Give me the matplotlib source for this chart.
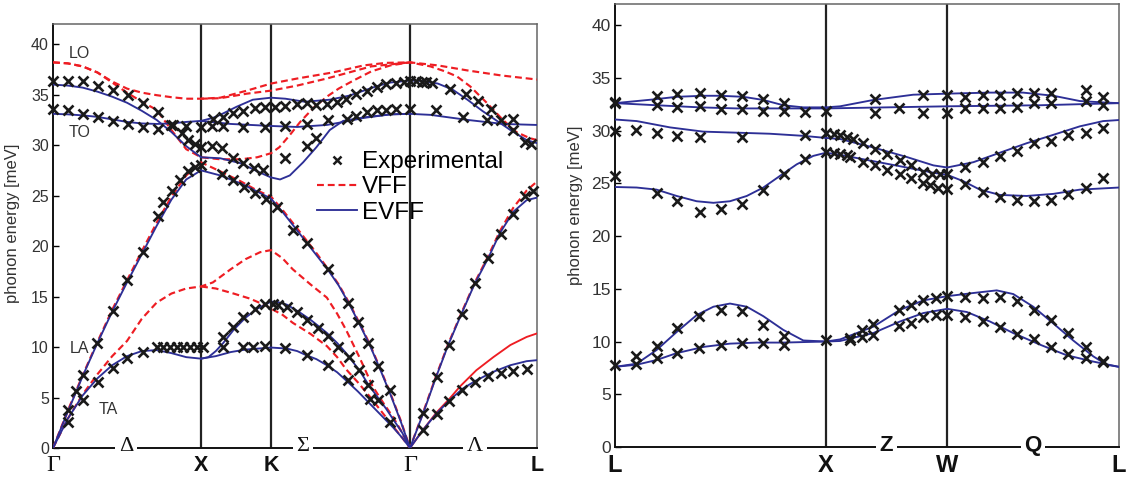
import matplotlib
matplotlib.use("Agg")
import matplotlib.pyplot as plt
from matplotlib.lines import Line2D

plt.rcParams['font.family'] = ['Liberation Sans', 'DejaVu Sans']

# ---------------- LEFT PANEL: path Γ-X-K-Γ-L (path coordinate q) ----------------
LEFT_NODES = [0.0, 1.0, 1.473, 2.412, 3.27]
LEFT_NODE_LABELS = ['Γ', 'X', 'K', 'Γ', 'L']
LEFT_DIR_LABELS = ['Δ', 'Σ', 'Λ']
LEFT_DIR_POS = [0.493, 1.689, 2.851]
Y_TICKS = [0, 5, 10, 15, 20, 25, 30, 35, 40]

# EVFF (blue, solid)
E1_Q = [0, 0.1, 0.2, 0.3, 0.4, 0.5, 0.6, 0.7, 0.8, 0.9, 1.0, 1.13, 1.27, 1.38, 1.473,
        1.534, 1.60, 1.69, 1.78, 1.87, 1.96, 2.1, 2.28, 2.412, 2.55, 2.8, 3.04, 3.27]
E1_E = [36.0, 35.9, 35.7, 35.3, 34.8, 34.2, 33.4, 32.5, 31.3, 29.9, 28.8, 28.7, 28.2, 27.4, 26.8,
        26.6, 27.0, 28.3, 29.8, 31.5, 32.4, 32.75, 33.05, 33.1, 33.0, 32.5, 32.1, 32.0]
E2_Q = [0, 0.1, 0.2, 0.3, 0.4, 0.5, 0.6, 0.7, 0.8, 0.9, 1.0, 1.08, 1.13, 1.24, 1.35, 1.473,
        1.57, 1.70, 1.87, 2.0, 2.10, 2.20, 2.28, 2.412, 2.5, 2.6, 2.7, 2.8, 2.9, 3.0, 3.1, 3.2, 3.27]
E2_E = [33.1, 33.05, 32.95, 32.8, 32.55, 32.3, 32.15, 32.1, 32.15, 32.3, 32.4, 32.7, 33.0, 33.8, 34.5, 34.7,
        34.6, 34.3, 34.5, 34.9, 35.4, 35.9, 36.2, 36.4, 36.35, 36.1, 35.5, 34.5, 33.4, 32.4, 31.4, 30.5, 30.2]
E3_Q = [1.0, 1.2, 1.473, 1.65, 1.85, 2.0, 2.10, 2.28, 2.412]
E3_E = [32.4, 32.1, 31.9, 31.8, 32.0, 32.4, 32.7, 33.05, 33.1]
LA_Q = [0, 0.1, 0.2, 0.3, 0.4, 0.5, 0.6, 0.7, 0.8, 0.9, 1.0, 1.13, 1.27, 1.38, 1.473,
        1.55, 1.62, 1.70, 1.78, 1.86, 1.93, 2.0, 2.07, 2.14, 2.21, 2.28, 2.35, 2.412,
        2.50, 2.59, 2.67, 2.76, 2.85, 2.94, 3.02, 3.11, 3.2, 3.27]
E4_E = [0, 3.6, 7.1, 10.4, 13.5, 16.4, 19.2, 22.0, 24.6, 26.6, 27.5, 27.0, 26.2, 25.4, 24.7,
        23.4, 22.1, 20.6, 19.1, 17.6, 16.1, 14.3, 12.3, 10.2, 7.8, 5.3, 2.6, 0,
        3.4, 7.1, 10.2, 13.3, 16.3, 18.8, 21.3, 23.4, 24.55, 24.8]
E5_Q = [0, 0.1, 0.2, 0.3, 0.4, 0.5, 0.6, 0.7, 0.8, 0.9, 1.0, 1.05, 1.1, 1.15, 1.22, 1.3, 1.38, 1.473,
        1.52, 1.58, 1.66, 1.74, 1.80, 1.85, 1.92, 1.98, 2.07, 2.13, 2.19, 2.25, 2.30, 2.36, 2.412,
        2.50, 2.59, 2.68, 2.77, 2.86, 2.975, 3.09, 3.20, 3.27]
E5_E = [0, 2.9, 5.2, 6.9, 8.2, 9.1, 9.6, 9.7, 9.4, 9.0, 8.85, 9.0, 9.6, 10.4, 11.7, 12.9, 13.8, 14.5,
        14.45, 14.2, 13.5, 12.7, 12.0, 11.4, 10.4, 9.4, 7.7, 6.3, 5.1, 3.9, 2.8, 1.5, 0,
        1.8, 3.4, 4.75, 5.9, 6.7, 7.55, 8.2, 8.6, 8.7]
E6_Q = [1.0, 1.1, 1.2, 1.3, 1.473, 1.58, 1.65, 1.71, 1.78, 1.85, 1.92, 1.98, 2.06, 2.14, 2.22, 2.30, 2.36, 2.412]
E6_E = [8.85, 9.1, 9.5, 9.75, 9.95, 9.85, 9.6, 9.2, 8.8, 8.2, 7.5, 6.7, 5.6, 4.4, 3.2, 2.0, 1.0, 0]

# VFF (red, dashed)
V1_Q = [0, 0.1, 0.2, 0.3, 0.4, 0.5, 0.6, 0.7, 0.8, 0.9, 1.0, 1.13, 1.31, 1.473,
        1.65, 1.89, 2.1, 2.25, 2.412, 2.6, 2.8, 3.03, 3.27]
V1_E = [38.2, 38.1, 37.8, 37.2, 36.3, 35.6, 35.2, 34.95, 34.75, 34.6, 34.6, 34.7, 35.4, 36.1,
        36.6, 37.2, 37.9, 38.15, 38.2, 37.9, 37.4, 36.9, 36.5]
V2_Q = [1.0, 1.13, 1.31, 1.473, 1.65, 1.85, 2.0, 2.15, 2.412]
V2_E = [34.6, 34.65, 35.1, 35.4, 35.9, 36.6, 37.2, 37.8, 38.2]
V3_Q = [0, 0.1, 0.2, 0.3, 0.4, 0.5, 0.6, 0.7, 0.8, 0.9, 1.0, 1.13, 1.27, 1.38, 1.473,
        1.53, 1.60, 1.67, 1.76, 1.85, 1.93, 2.03, 2.15, 2.28, 2.412,
        2.55, 2.65, 2.73, 2.82, 2.93, 3.04, 3.13, 3.22, 3.27]
V3_E = [38.2, 38.1, 37.8, 37.2, 36.2, 35.2, 34.3, 33.5, 31.5, 29.6, 28.8, 28.6, 28.6, 28.8, 29.2,
        29.8, 31.0, 32.3, 33.7, 34.8, 35.6, 36.4, 37.3, 37.9, 38.2,
        37.8, 37.3, 36.8, 35.8, 34.2, 32.5, 31.3, 30.7, 30.5]
V4_E = [0, 3.7, 7.2, 10.5, 13.7, 16.6, 19.5, 22.3, 24.9, 27.0, 28.3, 27.4, 26.4, 25.5, 24.9,
        23.6, 22.3, 20.8, 19.3, 17.7, 16.2, 14.4, 12.4, 10.3, 7.9, 5.4, 2.7, 0,
        3.5, 7.2, 10.3, 13.4, 16.4, 19.0, 21.5, 23.8, 25.5, 26.4]
V5_Q = [0, 0.1, 0.2, 0.3, 0.4, 0.5, 0.6, 0.7, 0.8, 0.9, 1.0, 1.08, 1.2, 1.3, 1.4, 1.473,
        1.55, 1.62, 1.74, 1.85, 1.92, 1.98, 2.07, 2.16, 2.23, 2.30, 2.36, 2.412]
V5_E = [0, 2.9, 5.3, 7.3, 9.1, 10.6, 12.8, 14.4, 15.3, 15.8, 16.0, 16.4, 17.7, 18.7, 19.4, 19.6,
        18.8, 17.7, 16.2, 14.9, 13.3, 11.7, 9.0, 6.1, 4.5, 3.0, 1.5, 0]
V6_Q = [1.0, 1.1, 1.22, 1.33, 1.44, 1.473, 1.55, 1.62, 1.74, 1.85, 1.92, 1.98, 2.06, 2.14, 2.22, 2.30, 2.36, 2.412]
V6_E = [16.0, 15.8, 15.3, 14.8, 14.1, 13.8, 13.2, 12.4, 11.3, 10.1, 9.0, 7.8, 6.5, 5.1, 3.6, 2.1, 1.0, 0]
V7_Q = [2.412, 2.50, 2.59, 2.68, 2.75, 2.86, 2.975, 3.09, 3.20, 3.27]      # drawn solid in the source
V7_E = [0, 1.8, 3.5, 4.9, 6.1, 7.7, 9.0, 10.2, 11.0, 11.35]

# Experimental points (q, meV)
L_EXP_GX = [(0.0, 36.4), (0.103, 36.4), (0.205, 36.4), (0.306, 35.9), (0.407, 35.5), (0.505, 34.95),
            (0.61, 34.2), (0.71, 33.3), (0.81, 32.0), (0.87, 31.2), (0.914, 30.5), (0.959, 30.1), (1.0, 29.8),
            (0.0, 33.6), (0.103, 33.5), (0.205, 33.1), (0.306, 32.8), (0.407, 32.4), (0.505, 32.1),
            (0.61, 31.8), (0.707, 31.6), (0.80, 32.0), (0.90, 31.9), (1.0, 31.8),
            (0.103, 3.76), (0.155, 5.6), (0.205, 7.2), (0.30, 10.4), (0.407, 13.6), (0.502, 16.6),
            (0.606, 19.4), (0.707, 23.0), (0.745, 24.4), (0.802, 25.5), (0.858, 26.5), (0.914, 27.4),
            (0.959, 27.8), (1.0, 28.0),
            (0.103, 2.6), (0.2, 4.75), (0.302, 6.5), (0.407, 7.9), (0.502, 8.9), (0.606, 9.55),
            (0.70, 10.0), (0.745, 10.0), (0.79, 10.0), (0.836, 10.0), (0.88, 10.0), (0.926, 10.0),
            (0.971, 10.0), (1.016, 10.0)]
L_EXP_XK = [(1.08, 32.6), (1.147, 32.8), (1.218, 33.2), (1.286, 33.4), (1.365, 33.7), (1.432, 33.8), (1.50, 33.8),
            (1.072, 31.9), (1.147, 31.9), (1.286, 31.8), (1.432, 31.8),
            (1.072, 29.9), (1.14, 29.7), (1.218, 28.7), (1.286, 28.2), (1.355, 27.7), (1.42, 27.5),
            (1.14, 27.1), (1.218, 26.5), (1.29, 25.9), (1.365, 25.3), (1.44, 24.7), (1.511, 23.9),
            (1.147, 11.0), (1.147, 10.0), (1.218, 12.0), (1.286, 13.0), (1.365, 13.8), (1.432, 14.25),
            (1.486, 14.25), (1.286, 10.0), (1.35, 10.0), (1.432, 10.1)]
L_EXP_KG = [(1.57, 33.9), (1.647, 34.1), (1.714, 34.2), (1.78, 34.0), (1.85, 34.1), (1.92, 34.3), (1.98, 34.6),
            (2.05, 35.1), (2.12, 35.4), (2.19, 35.8), (2.25, 36.1), (2.32, 36.2), (2.37, 36.3), (2.412, 36.4),
            (1.568, 31.9), (1.714, 32.1), (1.86, 32.5), (1.984, 32.6), (2.05, 32.9), (2.12, 33.3),
            (2.19, 33.5), (2.25, 33.5), (2.32, 33.6), (2.412, 33.6),
            (1.568, 28.7), (1.714, 29.9), (1.78, 30.7),
            (1.62, 21.6), (1.714, 20.3), (1.86, 17.7), (1.995, 14.4), (2.063, 12.5), (2.13, 10.4),
            (2.198, 8.1), (2.28, 5.7),
            (1.52, 14.2), (1.58, 13.95), (1.647, 13.5), (1.714, 12.7), (1.79, 11.9), (1.86, 11.1),
            (1.928, 10.0), (2.0, 9.0), (2.07, 7.7), (2.13, 6.2), (2.198, 4.8), (2.277, 2.6),
            (1.568, 9.9), (1.714, 9.2), (1.86, 8.2), (1.995, 6.7), (2.14, 4.9)]
L_EXP_GL = [(2.45, 36.4), (2.49, 36.3), (2.52, 36.3), (2.56, 36.2), (2.68, 35.6), (2.79, 35.1), (2.87, 34.4),
            (2.96, 33.6), (3.03, 32.5), (3.11, 32.6), (3.11, 31.5), (3.19, 30.3), (3.23, 30.1),
            (2.59, 33.5), (2.77, 32.8), (2.93, 32.5),
            (2.50, 3.5), (2.593, 7.0), (2.678, 10.2), (2.761, 13.3), (2.851, 16.3), (2.941, 18.8),
            (3.025, 21.2), (3.11, 23.2), (3.19, 25.0), (3.245, 25.5),
            (2.50, 1.8), (2.593, 3.4), (2.678, 4.7), (2.761, 5.7), (2.851, 6.5), (2.941, 7.1),
            (3.025, 7.45), (3.11, 7.6), (3.20, 7.8)]

# ---------------- RIGHT PANEL: path L-X-W-L ----------------
RIGHT_NODES = [0.0, 0.866, 1.364, 2.069]
RIGHT_NODE_LABELS = ['L', 'X', 'W', 'L']
RIGHT_DIR_LABELS = ['Z', 'Q']
RIGHT_DIR_POS = [1.115, 1.716]

R1_Q = [0, 0.157, 0.253, 0.362, 0.431, 0.527, 0.609, 0.691, 0.773, 0.866, 0.924, 1.06, 1.224, 1.364,
        1.539, 1.675, 1.80, 1.908, 2.018, 2.069]
R1_E = [32.6, 32.95, 33.2, 33.3, 33.3, 33.2, 32.9, 32.4, 32.2, 32.2, 32.3, 32.9, 33.4, 33.5,
        33.6, 33.6, 33.3, 32.8, 32.65, 32.6]
R2_Q = [0, 0.171, 0.349, 0.50, 0.866, 1.364, 1.745, 2.069]
R2_E = [32.6, 32.4, 32.2, 32.1, 32.1, 32.3, 32.4, 32.6]
R3_Q = [0, 0.089, 0.226, 0.362, 0.50, 0.636, 0.773, 0.866, 0.924, 1.06, 1.197, 1.307, 1.364,
        1.471, 1.58, 1.69, 1.80, 1.908, 2.004, 2.069]
R3_E = [31.05, 30.9, 30.3, 29.9, 29.8, 29.7, 29.5, 29.3, 29.2, 28.4, 27.5, 26.7, 26.5,
        27.0, 27.9, 28.8, 29.6, 30.4, 30.9, 31.0]
R4_Q = [0, 0.089, 0.171, 0.253, 0.335, 0.404, 0.472, 0.541, 0.609, 0.677, 0.746, 0.814, 0.866,
        0.924, 1.06, 1.197, 1.307, 1.364, 1.43, 1.498, 1.58, 1.69, 1.80, 1.908, 2.069]
R4_E = [24.65, 24.6, 24.4, 23.8, 23.3, 23.15, 23.3, 23.8, 24.6, 25.7, 26.8, 27.6, 27.9,
        27.7, 27.1, 26.5, 26.0, 25.8, 25.2, 24.4, 23.9, 23.8, 24.0, 24.4, 24.6]
R5_Q = [0, 0.089, 0.171, 0.253, 0.335, 0.404, 0.472, 0.541, 0.609, 0.691, 0.773, 0.866,
        0.924, 1.06, 1.17, 1.266, 1.364, 1.471, 1.567, 1.635, 1.717, 1.80, 1.881, 1.963, 2.018, 2.069]
R5_E = [7.6, 7.9, 9.2, 10.9, 12.5, 13.3, 13.6, 13.3, 12.4, 11.1, 10.1, 10.0,
        10.2, 11.4, 13.0, 13.9, 14.3, 14.6, 14.85, 14.5, 13.3, 11.7, 10.1, 8.6, 7.8, 7.6]
R6_Q = [0, 0.089, 0.171, 0.253, 0.366, 0.472, 0.582, 0.691, 0.866, 0.924, 1.06, 1.17, 1.266, 1.364,
        1.444, 1.539, 1.635, 1.745, 1.854, 1.963, 2.069]
R6_E = [7.6, 7.8, 8.25, 8.9, 9.5, 9.8, 9.9, 9.9, 10.0, 10.05, 10.8, 11.9, 12.7, 13.1,
        12.8, 11.9, 10.8, 9.7, 8.7, 8.1, 7.6]

R_EXP_LX = [(0, 32.7), (0.171, 33.3), (0.256, 33.5), (0.349, 33.6), (0.434, 33.4), (0.52, 33.3), (0.606, 33.0), (0.694, 32.6),
            (0, 32.6), (0.171, 32.4), (0.256, 32.2), (0.349, 32.3), (0.434, 32.0), (0.52, 32.0), (0.606, 31.9),
            (0.694, 31.9), (0.78, 31.8), (0.866, 31.9),
            (0, 30.0), (0.086, 30.1), (0.171, 29.8), (0.256, 29.5), (0.349, 29.4), (0.52, 29.4), (0.78, 29.6), (0.866, 29.8),
            (0, 25.7), (0.171, 24.1), (0.256, 23.3), (0.349, 22.3), (0.434, 22.6), (0.52, 23.0), (0.606, 24.4),
            (0.694, 25.9), (0.78, 27.3), (0.866, 28.0),
            (0, 7.8), (0.086, 8.65), (0.171, 9.6), (0.256, 11.3), (0.346, 12.45), (0.434, 13.0), (0.52, 12.85),
            (0.606, 11.6), (0.694, 10.5),
            (0.086, 7.9), (0.171, 8.4), (0.256, 8.9), (0.346, 9.4), (0.434, 9.7), (0.52, 9.9), (0.606, 9.9),
            (0.694, 9.7), (0.866, 10.1)]
R_EXP_XW = [(0.897, 29.7), (0.924, 29.6), (0.951, 29.4), (0.978, 29.2), (1.017, 28.8), (1.067, 28.3), (1.115, 27.8),
            (1.17, 27.2), (1.217, 26.7), (1.266, 26.1), (1.30, 25.9), (1.334, 25.9), (1.364, 25.9),
            (0.897, 27.9), (0.924, 27.8), (0.951, 27.7), (0.965, 27.5), (1.019, 27.0), (1.067, 26.7), (1.115, 26.3),
            (1.17, 25.9), (1.217, 25.5), (1.266, 25.0), (1.293, 24.8), (1.327, 24.6), (1.364, 24.5),
            (1.067, 32.95), (1.266, 33.4), (1.364, 33.4), (1.067, 31.7), (1.167, 32.1), (1.266, 31.7), (1.364, 31.7),
            (0.965, 10.3), (1.013, 11.1), (1.06, 11.7), (1.167, 13.0), (1.214, 13.5), (1.266, 13.9), (1.318, 14.1),
            (1.364, 14.3),
            (0.965, 10.1), (1.013, 10.4), (1.06, 10.6), (1.167, 11.5), (1.214, 11.8), (1.266, 12.3), (1.318, 12.5),
            (1.364, 12.5)]
R_EXP_WL = [(1.437, 26.5), (1.509, 27.0), (1.58, 27.6), (1.649, 28.1), (1.72, 28.8), (1.789, 29.0), (1.861, 29.6),
            (1.933, 29.8), (2.004, 30.2),
            (1.437, 24.9), (1.509, 24.2), (1.58, 23.7), (1.649, 23.4), (1.72, 23.3), (1.789, 23.4), (1.861, 24.0),
            (1.933, 24.6), (2.004, 25.5),
            (1.437, 33.2), (1.509, 33.4), (1.58, 33.4), (1.649, 33.6), (1.72, 33.6), (1.789, 33.6), (1.933, 33.8),
            (2.004, 33.2),
            (1.437, 32.1), (1.509, 32.1), (1.58, 32.1), (1.649, 32.2), (1.72, 32.6), (1.789, 32.6), (1.933, 32.8),
            (2.004, 32.4),
            (1.437, 14.2), (1.509, 14.1), (1.58, 14.2), (1.649, 13.8), (1.72, 13.0), (1.789, 12.0), (1.861, 10.8),
            (1.933, 9.5), (2.004, 8.2),
            (1.437, 12.3), (1.509, 11.9), (1.58, 11.4), (1.649, 10.7), (1.72, 10.2), (1.789, 9.5), (1.861, 8.8),
            (1.933, 8.4), (2.004, 8.1)]

BRANCH_LABELS = ['LO', 'TO', 'LA', 'TA']
BRANCH_LABEL_POS = [(0.176, 39.1), (0.182, 31.3), (0.182, 9.9), (0.372, 3.8)]
LEGEND_LABELS = ['Experimental', 'VFF', 'EVFF']
Y_LABEL = 'phonon energy [meV]'

# ---------------- styles ----------------
BLUE = '#2d2f96'
RED = '#ee1d23'
BLACK = '#1a1a1a'
DASH = (0, (3.2, 1.8))
LW = 1.35

fig = plt.figure(figsize=(11.28, 4.82), dpi=100)
axL = fig.add_axes([53 / 1128, 34 / 482, 484 / 1128, 424 / 482])
axR = fig.add_axes([615 / 1128, 35 / 482, 504 / 1128, 443 / 482])


def style_axes(ax, nodes, labels, tick_fs, node_fs, serif_gamma):
    ax.set_ylim(0, 42)
    ax.set_xlim(nodes[0], nodes[-1])
    ax.set_yticks(Y_TICKS)
    ax.tick_params(axis='y', direction='in', length=4, width=1, labelsize=tick_fs,
                   labelcolor='#333333', pad=3)
    ax.set_xticks(nodes)
    ax.set_xticklabels(labels)
    ax.tick_params(axis='x', length=0, pad=5)
    for t in ax.get_xticklabels():
        if serif_gamma and t.get_text() == 'Γ':
            t.set_fontfamily(['Liberation Serif', 'DejaVu Serif'])
            t.set_fontsize(node_fs + 2)
        else:
            t.set_fontweight('bold')
            t.set_fontsize(node_fs)
        t.set_color('#111111')
    for s in ['left', 'bottom']:
        ax.spines[s].set_color('#111111')
        ax.spines[s].set_linewidth(1.4)
    for s in ['top', 'right']:
        ax.spines[s].set_color('#666666')
        ax.spines[s].set_linewidth(1.1)
    for n in nodes[1:-1]:
        ax.axvline(n, color='#222222', lw=1.6, zorder=1)
    ax.set_ylabel(Y_LABEL, fontsize=12, color='#333333')


style_axes(axL, LEFT_NODES, LEFT_NODE_LABELS, 11.5, 15.5, True)
style_axes(axR, RIGHT_NODES, RIGHT_NODE_LABELS, 12.5, 17, False)
axL.yaxis.set_label_coords(-0.068, 0.53)
axR.yaxis.set_label_coords(-0.064, 0.545)

# direction labels sitting on the bottom axis line
for pos, lab in zip(LEFT_DIR_POS, LEFT_DIR_LABELS):
    axL.text(pos, 0.1, lab, ha='center', va='center', fontsize=16,
             fontfamily=['Liberation Serif', 'DejaVu Serif'], color='#111111',
             bbox=dict(fc='white', ec='none', pad=2.5), clip_on=False, zorder=6)
for pos, lab in zip(RIGHT_DIR_POS, RIGHT_DIR_LABELS):
    axR.text(pos, 0.1, lab, ha='center', va='center', fontsize=16, fontweight='bold',
             color='#111111', bbox=dict(fc='white', ec='none', pad=2.5), clip_on=False, zorder=6)

# left panel curves
for q, e in [(E1_Q, E1_E), (E2_Q, E2_E), (E3_Q, E3_E), (LA_Q, E4_E), (E5_Q, E5_E), (E6_Q, E6_E)]:
    axL.plot(q, e, color=BLUE, lw=LW, zorder=3)
for q, e in [(V1_Q, V1_E), (V2_Q, V2_E), (V3_Q, V3_E), (LA_Q, V4_E), (V5_Q, V5_E), (V6_Q, V6_E)]:
    axL.plot(q, e, color=RED, lw=LW + 0.2, ls=DASH, zorder=2.8)
axL.plot(V7_Q, V7_E, color=RED, lw=LW, zorder=2.8)

for grp in [L_EXP_GX, L_EXP_XK, L_EXP_KG, L_EXP_GL]:
    axL.plot([p[0] for p in grp], [p[1] for p in grp], ls='none', marker='x', ms=6.5, mew=1.9,
             color=BLACK, zorder=4, clip_on=False)

# right panel curves
for q, e in [(R1_Q, R1_E), (R2_Q, R2_E), (R3_Q, R3_E), (R4_Q, R4_E), (R5_Q, R5_E), (R6_Q, R6_E)]:
    axR.plot(q, e, color=BLUE, lw=LW, zorder=3)
for grp in [R_EXP_LX, R_EXP_XW, R_EXP_WL]:
    axR.plot([p[0] for p in grp], [p[1] for p in grp], ls='none', marker='x', ms=6.5, mew=1.9,
             color=BLACK, zorder=4, clip_on=False)

# branch labels
for lab, (q, e) in zip(BRANCH_LABELS, BRANCH_LABEL_POS):
    axL.text(q, e, lab, ha='center', va='center', fontsize=11.5, color='#333333', zorder=5)

# legend
handles = [Line2D([], [], ls='none', marker='x', ms=5.5, mew=1.8, color=BLACK),
           Line2D([], [], color=RED, lw=LW + 0.2, ls=DASH),
           Line2D([], [], color=BLUE, lw=LW)]
leg = axL.legend(handles, LEGEND_LABELS, loc='upper left', bbox_to_anchor=(0.545, 0.70),
                 frameon=False, fontsize=17.5, handlelength=1.65, handletextpad=0.2,
                 labelspacing=0.13, borderpad=0, borderaxespad=0)
leg.set_zorder(7)

fig.savefig('out.png', dpi=100)
